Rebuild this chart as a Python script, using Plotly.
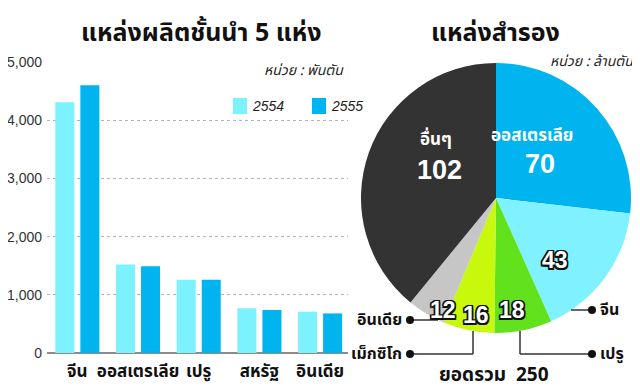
import plotly.graph_objects as go

# ---- data ----
countries = ["จีน", "ออสเตรเลีย", "เปรู", "สหรัฐ", "อินเดีย"]
prod_2554 = [4310, 1520, 1260, 769, 710]
prod_2555 = [4600, 1490, 1260, 740, 680]
year_names = ["2554", "2555"]
y_ticks = [0, 1000, 2000, 3000, 4000, 5000]
y_tick_text = ["0", "1,000", "2,000", "3,000", "4,000", "5,000"]

res_labels = ["ออสเตรเลีย", "จีน", "เปรู", "เม็กซิโก", "อินเดีย", "อื่นๆ"]
res_values = [70, 43, 18, 16, 12, 102]
res_total = 250

C_LIGHT = "#7df2ff"
C_DARK = "#00b4f0"
pie_colors = ["#00b4f0", "#80f2ff", "#62e21c", "#c8f80c", "#c6c6c6", "#333333"]

# page body has an 8px margin: the figure covers window pixels 8..640 x 8..390
OFF = 8
W, H = 640 - OFF, 390 - OFF
TH = "Noto Sans Thai, Loma, Garuda, sans-serif"
NUM = "Liberation Sans, Arial, sans-serif"

def px(x):
    return (x - OFF) / W

def py(y):
    return 1 - (y - OFF) / H

fig = go.Figure()
fig.add_trace(go.Bar(x=countries, y=prod_2554, name=year_names[0], showlegend=False,
                     marker=dict(color=C_LIGHT, line=dict(width=0))))
fig.add_trace(go.Bar(x=countries, y=prod_2555, name=year_names[1], showlegend=False,
                     marker=dict(color=C_DARK, line=dict(width=0))))

# pie (circle centre 496,198 radius 135 in window pixels)
cx, cy, r = 496, 198, 135
fig.add_trace(go.Pie(labels=res_labels, values=res_values, sort=False,
                     direction="clockwise", rotation=0, automargin=False,
                     marker=dict(colors=pie_colors, line=dict(width=0)),
                     textinfo="none", hoverinfo="label+value", showlegend=False,
                     domain=dict(x=[px(cx - r), px(cx + r)], y=[py(cy + r), py(cy - r)])))

fig.update_layout(
    template="none",
    width=W, height=H, margin=dict(l=0, r=0, t=0, b=0, pad=0, autoexpand=False),
    paper_bgcolor="white", plot_bgcolor="white",
    barmode="group", bargap=0.175, bargroupgap=0.24,
    xaxis=dict(domain=[px(47), px(348)], range=[-0.5, 4.46], showgrid=False,
               automargin=False, showline=False, ticks="", ticklabelstandoff=6,
               tickfont=dict(family=TH, size=17, color="#111"),
               tickprefix="<b>", ticksuffix="</b>"),
    yaxis=dict(domain=[py(353), py(62)], range=[0, 5000], tickvals=y_ticks,
               ticktext=y_tick_text, showgrid=True, gridcolor="#b4b4b4", griddash="dot",
               gridwidth=1, zeroline=True, zerolinecolor="#8c8c8c", zerolinewidth=2,
               automargin=False, showline=False, ticks="", ticklabelstandoff=4,
               tickfont=dict(family=NUM, size=14, color="#333")),
    showlegend=False,
)

ann = []
ann.append(dict(x=px(201), y=py(33), text="<b>แหล่งผลิตชั้นนำ 5 แห่ง</b>",
                font=dict(family=TH, size=25, color="#111")))
ann.append(dict(x=px(346), y=py(71), xanchor="right", text="<i>หน่วย : พันตัน</i>",
                font=dict(family=TH, size=14, color="#222")))
ann.append(dict(x=px(495), y=py(33), text="<b>แหล่งสำรอง</b>",
                font=dict(family=TH, size=25, color="#111")))
ann.append(dict(x=px(636), y=py(62), xanchor="right", text="<i>หน่วย : ล้านตัน</i>",
                font=dict(family=TH, size=14, color="#222")))

# legend (series names)
shapes = []
leg_x = [233, 312]
leg_col = [C_LIGHT, C_DARK]
for name, lx, col in zip(year_names, leg_x, leg_col):
    shapes.append(dict(type="rect", xref="paper", yref="paper", x0=px(lx), x1=px(lx + 14),
                       y0=py(114), y1=py(98), fillcolor=col, line=dict(width=0)))
    ann.append(dict(x=px(lx + 17), y=py(106), xanchor="left", text="<i>" + name + "</i>",
                    font=dict(family=NUM, size=14, color="#222")))

# inside labels
ann.append(dict(x=px(436), y=py(140), text="<b>" + res_labels[5] + "</b>",
                font=dict(family=TH, size=17, color="white")))
ann.append(dict(x=px(439), y=py(170), text="<b>%d</b>" % res_values[5],
                font=dict(family=NUM, size=27, color="white")))
ann.append(dict(x=px(532), y=py(136), text="<b>" + res_labels[0] + "</b>",
                font=dict(family=TH, size=17, color="white")))
ann.append(dict(x=px(540), y=py(164), text="<b>%d</b>" % res_values[0],
                font=dict(family=NUM, size=27, color="white")))
outline = ("-1.5px -1.5px 0 #111, 1.5px -1.5px 0 #111, -1.5px 1.5px 0 #111, "
           "1.5px 1.5px 0 #111, 0 1.5px 0 #111, 0 -1.5px 0 #111, 1.5px 0 0 #111, -1.5px 0 0 #111")
for lab_i, (xx, yy) in zip([1, 2, 3, 4], [(555, 260), (512, 310), (476, 315), (443, 310)]):
    ann.append(dict(x=px(xx), y=py(yy), text="<b>%d</b>" % res_values[lab_i],
                    font=dict(family=NUM, size=23, color="white", shadow=outline)))

# outside labels
ann.append(dict(x=px(404), y=py(320), xanchor="right", text="<b>" + res_labels[4] + "</b>",
                font=dict(family=TH, size=16, color="#111")))
ann.append(dict(x=px(404), y=py(354), xanchor="right", text="<b>" + res_labels[3] + "</b>",
                font=dict(family=TH, size=16, color="#111")))
ann.append(dict(x=px(598), y=py(310), xanchor="left", text="<b>" + res_labels[1] + "</b>",
                font=dict(family=TH, size=16, color="#111")))
ann.append(dict(x=px(598), y=py(354), xanchor="left", text="<b>" + res_labels[2] + "</b>",
                font=dict(family=TH, size=16, color="#111")))
ann.append(dict(x=px(494), y=py(375), text="<b>ยอดรวม  %d</b>" % res_total,
                font=dict(family=TH, size=19, color="#111")))
for a in ann:
    a.setdefault("xref", "paper")
    a.setdefault("yref", "paper")
    a.setdefault("xanchor", "center")
    a.setdefault("yanchor", "middle")
    a.setdefault("showarrow", False)
fig.update_layout(annotations=ann)

# connector lines and dots
LC = "#333"
def line(x0, y0, x1, y1):
    shapes.append(dict(type="line", xref="paper", yref="paper", x0=px(x0), y0=py(y0),
                       x1=px(x1), y1=py(y1), line=dict(color=LC, width=1.5)))
def dot(x, y, rr=4):
    shapes.append(dict(type="circle", xref="paper", yref="paper", x0=px(x - rr), y0=py(y + rr),
                       x1=px(x + rr), y1=py(y - rr), fillcolor="#111", line=dict(width=0)))
line(410, 320, 438, 320); dot(410, 320)
line(410, 354, 473, 354); line(473, 354, 473, 331); dot(410, 354)
line(520, 331, 520, 354); line(520, 354, 592, 354); dot(592, 354)
line(571, 310, 592, 310); dot(592, 310)
fig.update_layout(shapes=shapes)

fig.write_html("out.html")
